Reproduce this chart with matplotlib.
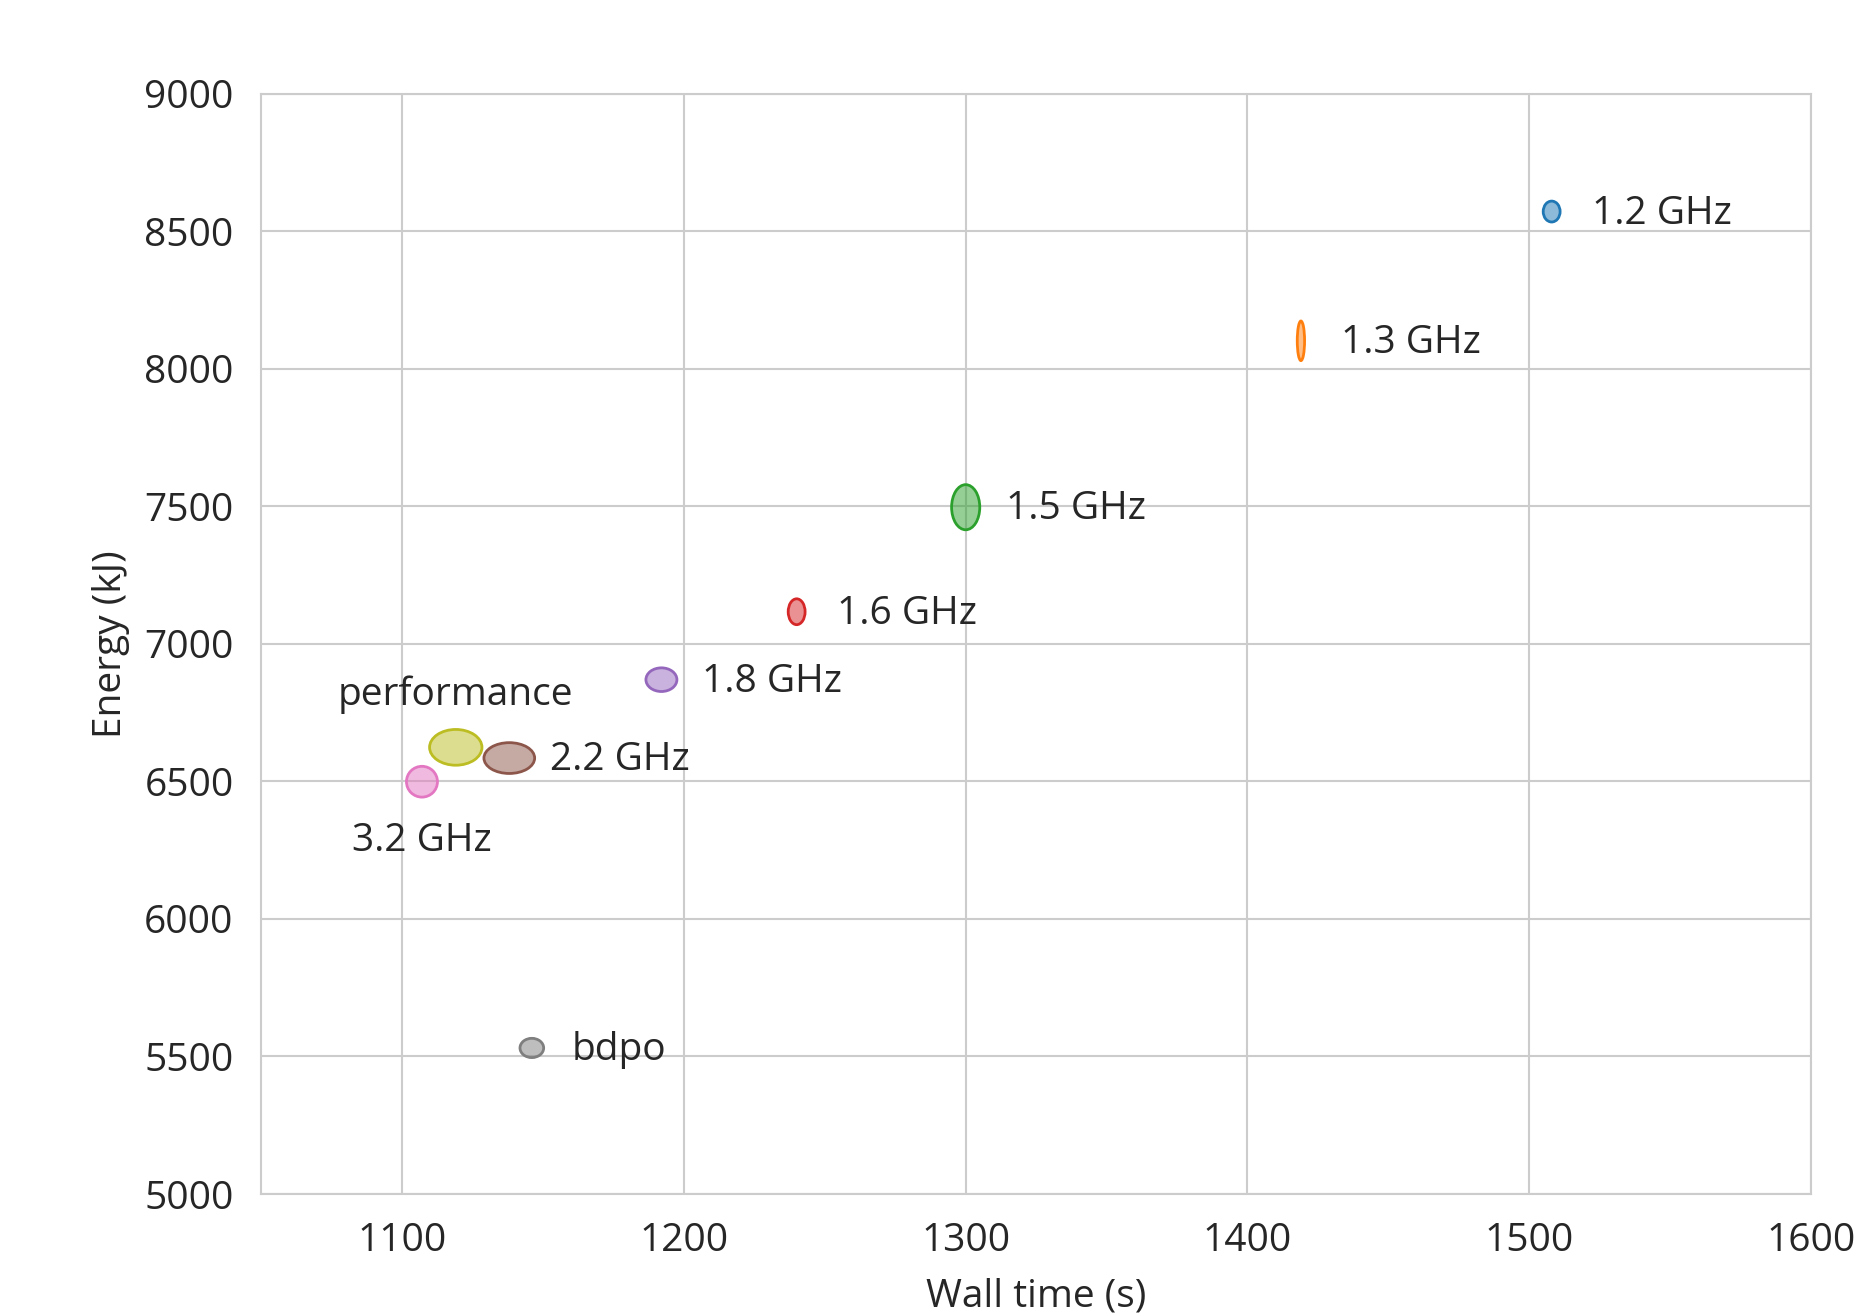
import matplotlib
matplotlib.use("Agg")
import matplotlib.pyplot as plt
from matplotlib.patches import Ellipse

plt.rcParams['font.family'] = ['Open Sans', 'DejaVu Sans']

# mean wall time / energy and their spread, per governor setting
labels = ['1.2 GHz', '1.3 GHz', '1.5 GHz', '1.6 GHz', '1.8 GHz',
          '2.2 GHz', '3.2 GHz', 'bdpo', 'performance']
time_mean = [1508, 1419, 1300, 1240, 1192, 1138, 1107, 1146, 1119]
time_std = [3.0, 1.3, 5.0, 3.0, 5.5, 9.0, 5.5, 4.2, 9.3]
energy_mean = [8572, 8102, 7497, 7117, 6870, 6585, 6499, 5531, 6624]
energy_std = [38, 72, 82, 47, 43, 56, 56, 35, 65]

colors = plt.get_cmap('tab10').colors
text_col = '#262626'
grid_col = '#cccccc'

fig = plt.figure(figsize=(18.63, 13.16), dpi=100)
ax = fig.add_axes([0.1403, 0.0927, 0.8317, 0.836])

for i, lab in enumerate(labels):
    e = Ellipse((time_mean[i], energy_mean[i]), 2 * time_std[i], 2 * energy_std[i],
                facecolor=colors[i], alpha=0.5, edgecolor='none', zorder=3)
    ax.add_patch(e)
    e2 = Ellipse((time_mean[i], energy_mean[i]), 2 * time_std[i], 2 * energy_std[i],
                 facecolor='none', edgecolor=colors[i], lw=2.0, zorder=4)
    ax.add_patch(e2)
    if lab == 'performance':
        off, ha = (0, 38), 'center'
    elif lab == '3.2 GHz':
        off, ha = (0, -43), 'center'
    else:
        off, ha = (29, -1.5), 'left'
    ax.annotate(lab, (time_mean[i], energy_mean[i]), xytext=off,
                textcoords='offset points', ha=ha, va='center',
                fontsize=28, color=text_col)

ax.set_xlim(1050, 1600)
ax.set_ylim(5000, 9000)
ax.set_xticks(range(1100, 1601, 100))
ax.set_yticks(range(5000, 9001, 500))
ax.grid(True, color=grid_col, lw=1.5, zorder=0)
ax.set_axisbelow(True)
for s in ax.spines.values():
    s.set_color(grid_col)
    s.set_linewidth(1.5)
ax.tick_params(length=0, labelsize=28, labelcolor=text_col, pad=20)
ax.set_xlabel('Wall time (s)', fontsize=28, color=text_col, labelpad=13)
ax.set_ylabel('Energy (kJ)', fontsize=28, color=text_col, labelpad=10)

fig.savefig('out.png', dpi=100)
